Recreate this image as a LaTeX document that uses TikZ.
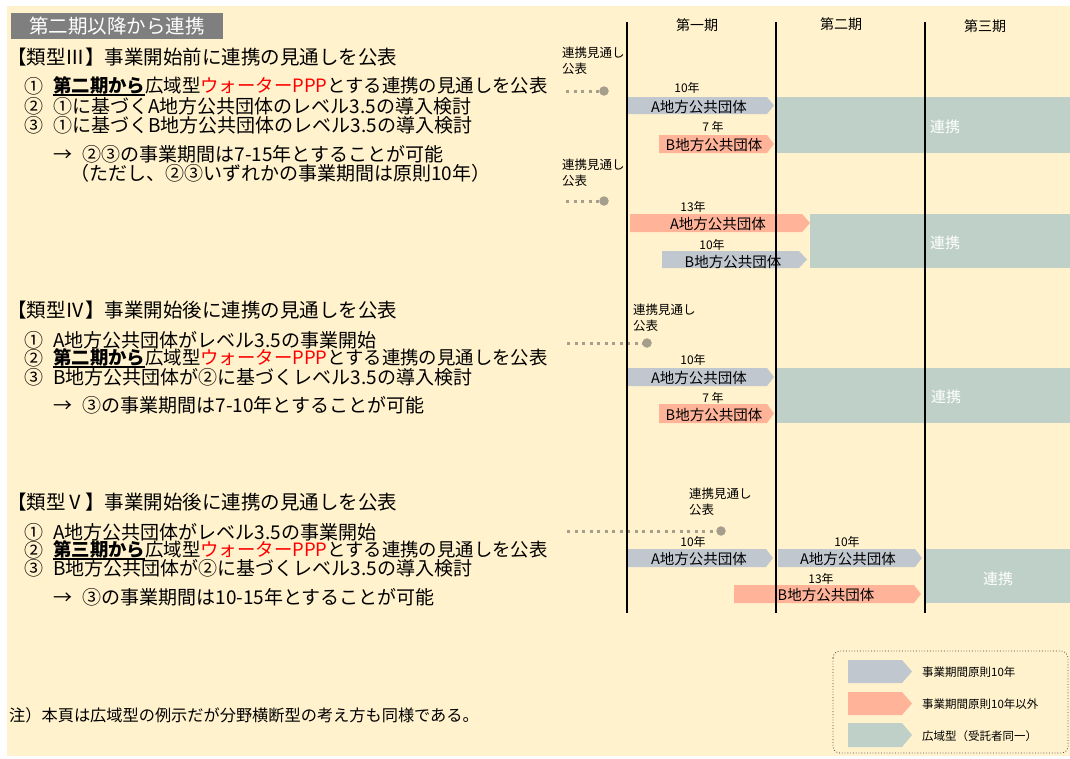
\documentclass[tikz,border=0pt]{standalone}
\usepackage{fontspec}
\setmainfont{Noto Sans CJK JP}
\definecolor{cream}{RGB}{255,242,204}
\definecolor{titlegray}{RGB}{127,127,127}
\definecolor{arrgray}{RGB}{193,199,207}
\definecolor{arrsalmon}{RGB}{255,180,154}
\definecolor{arrteal}{RGB}{190,208,200}
\definecolor{dotgray}{RGB}{166,158,140}
\definecolor{pppred}{RGB}{255,0,0}
\newcommand\ulb[1]{\setbox0\hbox{\bfseries #1}\rlap{\rule[-3.2pt]{\wd0}{1.6pt}}\box0}
\newcommand\red[1]{\textcolor{pppred}{#1}}
\newcommand\rarr{→\hspace{0.55em}}
\newcommand\pentarrow[6]{\fill[#1] (#2,#5) -- (#3,#5) -- (#4,{(#5+#6)/2}) -- (#3,#6) -- (#2,#6) -- cycle;}
\begin{document}
\begin{tikzpicture}[x=1pt,y=-1pt,
  txt/.style={inner sep=0pt, anchor=west, font=\fontsize{19}{19}\selectfont},
  txtn/.style={inner sep=0pt, anchor=west, font=\fontsize{18.4}{18.4}\selectfont},
  headtxt/.style={inner sep=0pt, anchor=west, font=\fontsize{19.5}{19.5}\selectfont},
  titletxt/.style={inner sep=0pt, font=\fontsize{19.5}{19.5}\selectfont, text=white},
  periodtxt/.style={inner sep=0pt, font=\fontsize{14}{14}\selectfont},
  yeartxt/.style={inner sep=0pt, font=\fontsize{12}{12}\selectfont},
  boxtxt/.style={inner sep=0pt, font=\fontsize{14.5}{14.5}\selectfont},
  linktxt/.style={inner sep=0pt, font=\fontsize{15}{15}\selectfont, text=white},
  lbltxt/.style={inner sep=0pt, anchor=west, align=left, font=\fontsize{12.5}{16}\selectfont},
  legtxt/.style={inner sep=0pt, anchor=west, font=\fontsize{11.5}{11.5}\selectfont},
  notetxt/.style={inner sep=0pt, anchor=west, font=\fontsize{16.2}{16.2}\selectfont},
  vline/.style={line width=2.8pt, black},
  dotl/.style={dotgray, line width=3pt, dash pattern=on 3pt off 4.5pt},
  dotc/.style={circle, fill=dotgray, inner sep=0pt, minimum size=9.5pt},
  graybox/.style={fill=arrgray},
  salmonbox/.style={fill=arrsalmon},
  tealbox/.style={fill=arrteal},
  legbox/.style={draw=black!75, line width=0.8pt, dotted, rounded corners=7pt}]
\useasboundingbox (0,0) rectangle (1070,758);
\fill[white] (0,0) rectangle (1070,758);
\fill[cream] (7,6) rectangle (1070,756);

% title
\fill[titlegray] (11,13) rectangle (223,39);
\node[titletxt] (title) at (117,26) {第二期以降から連携};

% ---- Type III text
\node[headtxt] (h3) at (7,57) {【類型Ⅲ】事業開始前に連携の見通しを公表};
\node[txt] (h3n1) at (24,86) {①};
\node[txtn] (h3t1) at (53,86) {\ulb{第二期から}広域型\red{ウォーターPPP}とする連携の見通しを公表};
\node[txt] (h3n2) at (24,106) {②};
\node[txt] (h3t2) at (53,106) {①に基づくA地方公共団体のレベル3.5の導入検討};
\node[txt] (h3n3) at (24,125) {③};
\node[txt] (h3t3) at (53,125) {①に基づくB地方公共団体のレベル3.5の導入検討};
\node[txt] (h3r1) at (53,154) {\rarr ②③の事業期間は7-15年とすることが可能};
\node[txt] (h3r2) at (70,173) {（ただし、②③いずれかの事業期間は原則10年）};

% ---- Type IV text
\node[headtxt] (h4) at (7,310) {【類型Ⅳ】事業開始後に連携の見通しを公表};
\node[txt] (h4n1) at (24,340) {①};
\node[txt] (h4t1) at (53,340) {A地方公共団体がレベル3.5の事業開始};
\node[txt] (h4n2) at (24,358) {②};
\node[txtn] (h4t2) at (53,358) {\ulb{第二期から}広域型\red{ウォーターPPP}とする連携の見通しを公表};
\node[txt] (h4n3) at (24,377) {③};
\node[txt] (h4t3) at (53,377) {B地方公共団体が②に基づくレベル3.5の導入検討};
\node[txt] (h4r1) at (53,405) {\rarr ③の事業期間は7-10年とすることが可能};

% ---- Type V text
\node[headtxt] (h5) at (7,502) {【類型Ⅴ】事業開始後に連携の見通しを公表};
\node[txt] (h5n1) at (24,532) {①};
\node[txt] (h5t1) at (53,532) {A地方公共団体がレベル3.5の事業開始};
\node[txt] (h5n2) at (24,550) {②};
\node[txtn] (h5t2) at (53,550) {\ulb{第三期から}広域型\red{ウォーターPPP}とする連携の見通しを公表};
\node[txt] (h5n3) at (24,568) {③};
\node[txt] (h5t3) at (53,568) {B地方公共団体が②に基づくレベル3.5の導入検討};
\node[txt] (h5r1) at (53,597) {\rarr ③の事業期間は10-15年とすることが可能};

% note
\node[notetxt] (note) at (9,715) {注）本頁は広域型の例示だが分野横断型の考え方も同様である。};

% ---- period headers
\node[periodtxt] (p1) at (697,25) {第一期};
\node[periodtxt] (p2) at (841,24) {第二期};
\node[periodtxt] (p3) at (985,26) {第三期};

% ---- block 1 (Type III, B 7yr)
\fill[tealbox] (776,97) rectangle (1070,153);
\node[linktxt] (k1) at (945,127) {連携};
\pentarrow{graybox}{628}{767}{774}{97}{114}
\node[boxtxt] (b1a) at (699,107) {A地方公共団体};
\pentarrow{salmonbox}{659}{767}{774}{135}{153}
\node[boxtxt] (b1b) at (714,145) {B地方公共団体};
\node[yeartxt] (y1a) at (687,88) {10年};
\node[yeartxt] (y1b) at (713,127) {7 年};
\node[lbltxt] (l1) at (562,61) {連携見通し\\公表};
\coordinate (d1) at (566,91);
\node[dotc] (c1) at (604,91) {};
\draw[dotl] (d1) -- (c1);

% ---- block 2 (Type III, A 13yr)
\fill[tealbox] (810,214) rectangle (1070,268);
\node[linktxt] (k2) at (945,243) {連携};
\pentarrow{salmonbox}{630}{802}{810}{214}{232}
\node[boxtxt] (b2a) at (718,224) {A地方公共団体};
\pentarrow{graybox}{662}{799}{807}{251}{268}
\node[boxtxt] (b2b) at (733,262) {B地方公共団体};
\node[yeartxt] (y2a) at (693,207) {13年};
\node[yeartxt] (y2b) at (712,245) {10年};
\node[lbltxt] (l2) at (562,173) {連携見通し\\公表};
\coordinate (d2) at (566,201);
\node[dotc] (c2) at (604,201) {};
\draw[dotl] (d2) -- (c2);

% ---- block 3 (Type IV)
\fill[tealbox] (776,368) rectangle (1070,423);
\node[linktxt] (k3) at (946,397) {連携};
\pentarrow{graybox}{628}{767}{774}{368}{386}
\node[boxtxt] (b3a) at (699,378) {A地方公共団体};
\pentarrow{salmonbox}{659}{767}{774}{404}{423}
\node[boxtxt] (b3b) at (714,415) {B地方公共団体};
\node[yeartxt] (y3a) at (693,360) {10年};
\node[yeartxt] (y3b) at (713,398) {7 年};
\node[lbltxt] (l3) at (633,318) {連携見通し\\公表};
\coordinate (d3) at (567,343);
\node[dotc] (c3) at (647,343) {};
\draw[dotl] (d3) -- (c3);

% ---- block 4 (Type V)
\fill[tealbox] (926,549) rectangle (1070,603);
\node[linktxt] (k4) at (998,579) {連携};
\pentarrow{graybox}{628}{766}{773}{549}{567}
\node[boxtxt] (b4a) at (699,559) {A地方公共団体};
\pentarrow{graybox}{778}{915}{922}{549}{567}
\node[boxtxt] (b4a2) at (848,559) {A地方公共団体};
\pentarrow{salmonbox}{734}{914}{921}{585}{603}
\node[boxtxt] (b4b) at (826,595) {B地方公共団体};
\node[yeartxt] (y4a) at (693,542) {10年};
\node[yeartxt] (y4a2) at (847,542) {10年};
\node[yeartxt] (y4b) at (821,579) {13年};
\node[lbltxt] (l4) at (689,502) {連携見通し\\公表};
\coordinate (d4) at (567,531);
\node[dotc] (c4) at (721,531) {};
\draw[dotl] (d4) -- (c4);

% ---- period lines
\coordinate (v1t) at (627,22); \coordinate (v1b) at (627,613);
\coordinate (v2t) at (776,22); \coordinate (v2b) at (776,613);
\coordinate (v3t) at (925,22); \coordinate (v3b) at (925,613);
\draw[vline] (v1t) -- (v1b);
\draw[vline] (v2t) -- (v2b);
\draw[vline] (v3t) -- (v3b);

% ---- legend
\draw[legbox] (833,651) rectangle (1068,753);
\pentarrow{graybox}{848}{902}{912}{660}{683}
\pentarrow{salmonbox}{848}{902}{912}{692}{715}
\pentarrow{tealbox}{848}{902}{912}{723}{747}
\node[legtxt] (g1) at (922,672) {事業期間原則10年};
\node[legtxt] (g2) at (922,704) {事業期間原則10年以外};
\node[legtxt] (g3) at (922,736) {広域型（受託者同一）};
\end{tikzpicture}
\end{document}
